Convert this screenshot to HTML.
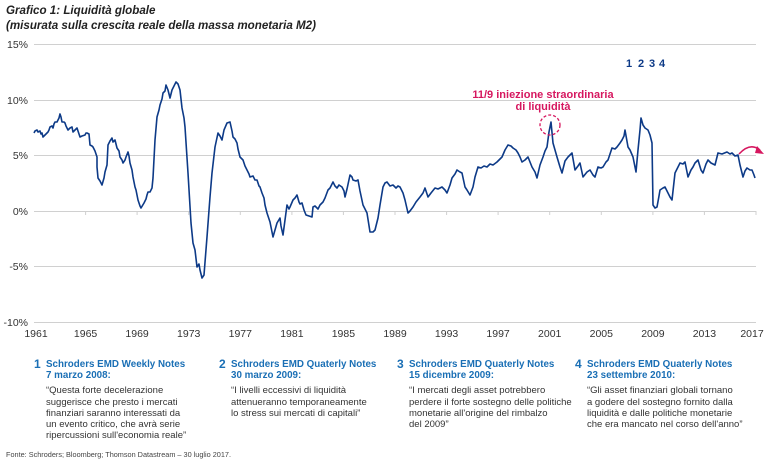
<!DOCTYPE html>
<html><head><meta charset="utf-8"><style>
body{margin:0;width:770px;height:463px;background:#fff;font-family:"Liberation Sans",sans-serif;overflow:hidden;position:relative}
.t{position:absolute;left:6px;top:4px;font-size:11.6px;font-style:italic;font-weight:bold;color:#222;line-height:14.5px}
.col{position:absolute;top:359px;font-size:9.5px;line-height:11.2px;color:#333}
.col .n{position:absolute;left:-12px;top:0;color:#1a6fb5;font-weight:bold;font-size:12px}
.col .h{color:#1a6fb5;font-weight:bold;margin-bottom:4px;font-size:9.8px}
.f{position:absolute;left:6px;top:450px;font-size:7.3px;color:#444}
</style></head><body>
<div class="t">Grafico 1: Liquidità globale<br>(misurata sulla crescita reale della massa monetaria M2)</div>
<svg width="770" height="463" style="position:absolute;left:0;top:0">
<g stroke="#d0d0d0" stroke-width="1">
<line x1="34" y1="44.5" x2="756" y2="44.5"/><line x1="34" y1="100.5" x2="756" y2="100.5"/><line x1="34" y1="155.5" x2="756" y2="155.5"/><line x1="34" y1="211.5" x2="756" y2="211.5"/><line x1="34" y1="266.5" x2="756" y2="266.5"/><line x1="34" y1="322.5" x2="756" y2="322.5"/>
</g>
<g stroke="#d0d0d0"><line x1="85.6" y1="211" x2="85.6" y2="215"/><line x1="137.1" y1="211" x2="137.1" y2="215"/><line x1="188.7" y1="211" x2="188.7" y2="215"/><line x1="240.3" y1="211" x2="240.3" y2="215"/><line x1="291.9" y1="211" x2="291.9" y2="215"/><line x1="343.4" y1="211" x2="343.4" y2="215"/><line x1="395" y1="211" x2="395" y2="215"/><line x1="446.6" y1="211" x2="446.6" y2="215"/><line x1="498.1" y1="211" x2="498.1" y2="215"/><line x1="549.7" y1="211" x2="549.7" y2="215"/><line x1="601.3" y1="211" x2="601.3" y2="215"/><line x1="652.9" y1="211" x2="652.9" y2="215"/><line x1="704.4" y1="211" x2="704.4" y2="215"/><line x1="756" y1="211" x2="756" y2="215"/></g>
<g font-size="10.5" fill="#333" text-anchor="end">
<text x="28" y="48">15%</text><text x="28" y="104">10%</text><text x="28" y="159">5%</text><text x="28" y="215">0%</text><text x="28" y="270">-5%</text><text x="28" y="326">-10%</text></g>
<g font-size="10.5" fill="#333" text-anchor="middle">
<text x="36" y="337">1961</text><text x="85.6" y="337">1965</text><text x="137.1" y="337">1969</text><text x="188.7" y="337">1973</text><text x="240.3" y="337">1977</text><text x="291.9" y="337">1981</text><text x="343.4" y="337">1985</text><text x="395" y="337">1989</text><text x="446.6" y="337">1993</text><text x="498.1" y="337">1997</text><text x="549.7" y="337">2001</text><text x="601.3" y="337">2005</text><text x="652.9" y="337">2009</text><text x="704.4" y="337">2013</text><text x="752" y="337">2017</text></g>
<polyline fill="none" stroke="#0d3a87" stroke-width="1.6" stroke-linejoin="round" points="34,133 35,131 37,130 38,132 40,131 41,134 42,133 43,137 45,135 46,134 48,132 49,130 50,127 52,126 53,128 54,124 55,122 57,122 58,120 59,118 60,114 61,117 62,122 64,122 65,123 66,126 68,130 70,128 72,127 73,132 75,130 77,128 78,131 80,137 82,136 85,135 86,133 87,133 89,134 90,145 92,146 93,147 95,151 97,157 97,167 98,178 100,181 102,185 104,178 105,172 107,165 108,145 110,141 112,138 113,142 115,140 116,144 117,148 119,151 120,157 122,160 123,163 125,160 126,157 128,152 129,156 130,163 132,170 133,177 135,187 136,190 138,200 140,206 141,208 144,203 146,199 147,195 148,192 150,192 152,188 153,178 155,140 157,117 159,110 160,105 162,99 163,93 165,91 166,85 168,90 170,98 172,90 174,86 176,82 178,84 180,90 182,108 184,118 185,127 188,173 191,223 193,243 195,250 197,267 199,264 200,270 202,278 204,275 207,237 210,197 212,173 215,147 218,133 220,136 222,140 224,130 227,123 230,122 232,131 233,137 235,139 237,143 238,149 240,157 243,160 245,166 247,170 249,174 250,177 253,176 255,180 257,180 259,186 260,187 262,193 264,198 265,205 267,213 270,222 273,237 275,230 277,223 280,218 281,226 283,235 287,205 289,209 290,207 293,200 295,198 297,195 299,202 300,204 302,203 304,210 306,215 309,216 312,217 313,207 315,206 318,209 320,205 323,202 325,198 328,190 330,188 333,182 335,186 337,188 339,185 342,187 344,191 345,197 347,189 350,175 352,177 353,180 356,181 358,180 360,191 363,205 365,209 367,213 370,232 373,232 375,230 378,218 380,205 383,187 385,183 387,182 390,186 393,185 396,188 398,186 400,187 403,193 405,200 408,213 410,211 413,207 416,202 420,197 423,193 425,188 428,197 431,193 435,188 438,189 442,187 445,190 447,193 450,185 452,178 455,174 457,170 460,172 462,173 465,187 467,190 470,195 473,187 475,177 478,167 481,168 484,166 487,167 490,164 493,165 497,162 502,157 505,150 508,145 511,146 513,148 516,150 518,153 520,157 522,162 525,160 528,157 530,162 532,167 535,172 537,178 540,165 543,157 545,151 547,147 549,132 551,122 553,143 555,150 557,157 560,167 562,173 565,161 568,157 570,155 572,153 575,170 578,166 580,163 583,177 587,172 590,170 593,175 595,177 598,167 601,168 603,167 606,162 608,160 610,154 612,148 615,149 617,147 620,143 622,140 624,136 625,130 628,147 630,150 633,157 636,172 638,150 640,130 641,118 643,125 645,128 648,130 650,135 652,143 653,205 655,208 657,207 659,196 660,190 663,188 665,187 668,193 670,197 672,200 675,173 678,167 680,163 683,164 685,162 688,177 691,170 693,167 695,163 698,160 701,170 703,173 706,164 708,160 711,163 715,165 718,153 722,154 727,152 730,154 732,153 735,156 738,155 740,165 743,177 745,171 747,168 750,170 752,170 754,175 755,178"/>
<circle cx="550" cy="125" r="10" fill="none" stroke="#d6175f" stroke-width="1.3" stroke-dasharray="3,2"/>
<path d="M739,154 Q750,142 760,150" fill="none" stroke="#d6175f" stroke-width="1.5"/>
<path d="M757,146 L764,154 L755,153 Z" fill="#d6175f"/>
<g fill="#d6175f" font-size="11" font-weight="bold" text-anchor="middle"><text x="543" y="98">11/9 iniezione straordinaria</text><text x="543" y="110">di liquidità</text></g>
<g fill="#0d3a87" font-size="11" font-weight="bold"><text x="626" y="67">1</text><text x="638" y="67">2</text><text x="649" y="67">3</text><text x="659" y="67">4</text></g>
</svg>
<div class="col" style="left:46px"><span class="n">1</span><div class="h">Schroders EMD Weekly Notes<br>7 marzo 2008:</div>“Questa forte decelerazione<br>suggerisce che presto i mercati<br>finanziari saranno interessati da<br>un evento critico, che avrà serie<br>ripercussioni sull'economia reale”</div>
<div class="col" style="left:231px"><span class="n">2</span><div class="h">Schroders EMD Quaterly Notes<br>30 marzo 2009:</div>“I livelli eccessivi di liquidità<br>attenueranno temporaneamente<br>lo stress sui mercati di capitali”</div>
<div class="col" style="left:409px"><span class="n">3</span><div class="h">Schroders EMD Quaterly Notes<br>15 dicembre 2009:</div>“I mercati degli asset potrebbero<br>perdere il forte sostegno delle politiche<br>monetarie all'origine del rimbalzo<br>del 2009”</div>
<div class="col" style="left:587px"><span class="n">4</span><div class="h">Schroders EMD Quaterly Notes<br>23 settembre 2010:</div>“Gli asset finanziari globali tornano<br>a godere del sostegno fornito dalla<br>liquidità e dalle politiche monetarie<br>che era mancato nel corso dell'anno”</div>
<div class="f">Fonte: Schroders; Bloomberg; Thomson Datastream – 30 luglio 2017.</div>
</body></html>
